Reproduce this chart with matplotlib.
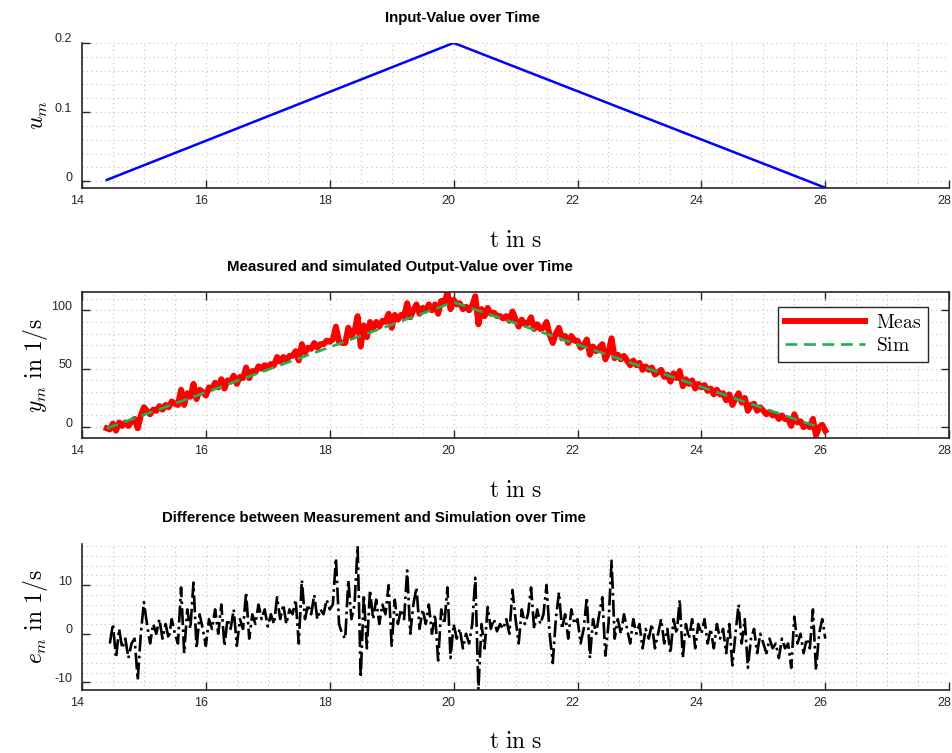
"""Input ramp, measured vs simulated output and their difference (three stacked panels)."""

import numpy as np
import matplotlib
matplotlib.use('Agg')
import matplotlib.pyplot as plt
from matplotlib.ticker import MultipleLocator, FormatStrFormatter
from matplotlib.transforms import ScaledTranslation

plt.rcParams['mathtext.fontset'] = 'cm'
plt.rcParams['font.family'] = ['Liberation Sans', 'DejaVu Sans']
plt.rcParams['axes.unicode_minus'] = False

INK = '#262626'
GRID = '#c2c2c2'

# input value: ramp up then ramp down
T_IN = [14.4, 20.0, 26.02]
U_IN = [0.002, 0.2, -0.01]

# simulated output (corner points of the ramp)
T_SIM = [14.4, 20.0, 25.95]
Y_SIM = [-1.0, 107.0, -1.0]

# measured output, one sample every 0.05 s starting at 14.40 s
T0_MEAS = 14.40
DT_MEAS = 0.05
Y_MEAS = [
    -1,
    -2, 3, -3, 4, 1, 4, 1, 5, 7, -1, 10, 17, 14, 11, 15, 14, 18, 15, 19, 17,
    22, 20, 19, 32, 19, 29, 26, 37, 24, 32, 30, 27, 34, 33, 38, 34, 41, 33, 40, 39,
    44, 37, 43, 42, 51, 42, 48, 47, 52, 50, 53, 51, 54, 53, 60, 56, 60, 57, 61, 61,
    65, 57, 71, 64, 68, 67, 72, 68, 71, 71, 74, 73, 75, 86, 73, 72, 72, 85, 78, 82,
    95, 69, 87, 77, 90, 85, 90, 86, 91, 90, 97, 85, 96, 92, 96, 95, 106, 94, 100, 105,
    97, 102, 100, 105, 100, 105, 97, 108, 106, 115, 101, 109, 105, 106, 101, 103, 100, 104, 112, 88,
    101, 95, 102, 97, 98, 95, 95, 93, 95, 91, 99, 92, 86, 92, 88, 89, 94, 84, 88, 84,
    85, 90, 79, 72, 80, 85, 76, 78, 72, 78, 74, 74, 68, 70, 75, 62, 69, 65, 68, 71,
    58, 64, 76, 59, 62, 58, 61, 57, 53, 57, 53, 55, 49, 52, 49, 51, 45, 47, 49, 43,
    45, 39, 46, 42, 48, 35, 41, 37, 40, 33, 37, 34, 36, 31, 33, 28, 32, 28, 29, 23,
    28, 19, 24, 29, 21, 25, 14, 19, 20, 14, 17, 14, 11, 13, 10, 11, 7, 10, 7, 7,
    1, 11, 4, 5, 0, 2, 0, 7, -7, 0, 2, -3,
]

# difference measurement - simulation, one sample every 0.05 s from 14.45 s
T0_ERR = 14.45
DT_ERR = 0.05
E_DIFF = [
    -2, 2, -5, 1, -3, -1, -5, -2, -1, -9.5, 0, 6.5, 2, -2, 2, 0, 3, -1, 2, -1,
    3, 0, -2, 9.5, -4, 5, 1, 10.5, -3, 4, 1, -2.5, 3, 1, 5, 0, 6, -2.5, 3, 1,
    5, -2.5, 3, 1, 8.5, -1, 4, 2, 6, 3, 5, 1.5, 4, 2, 7.5, 3, 6, 2, 5, 4,
    7, -2, 11, 3, 6, 4, 8, 3, 5, 4, 7, 5, 6, 15.5, 2, 0, -1, 11, 3, 6,
    18, -9, 8, -3, 9, 3, 7, 2, 6, 4, 10, -2.5, 7, 2, 5, 3, 13, 0, 6, 9.5,
    1, 5, 2, 6, 0, 4, -5.5, 5, 2, 9.5, -5, 2, -1, 1, -3, 0, -2, 2, 11.5, -11.5,
    2, -3, 5.5, 1, 3, 0.5, 2, 1, 3, 0, 9, 3, -2, 5, 2, 4, 9.5, 1, 5, 2,
    4, 10, 0, -6, 3, 8.5, 1, 4, -1, 5, 2, 3, -2, 1, 7.5, -5, 3, 0, 4, 7.5,
    -4.5, 2, 15, -1, 3, 0, 4, 1, -2, 3, 0, 2, -3, 1, -1, 2, -3, 0, 3, -2,
    1, -4, 3, 0, 7, -5, 2, -1, 3, -3, 2, 0, 3, -2, 1, -3, 2, -1, 1, -4,
    2, -6.5, 0, 6, -2, 3, -7, -1, 1, -4, 0, -2, -4, -1, -3, -2, -5, -1, -3, -2,
    -7, 3.5, -2, 0, -4, -1, -3, 5, -7.5, 0, 3, -1,
]

XLABEL = r'$\mathrm{t\ in\ s}$'
LABEL_FS = 17


def style_axes(fig, ax, box, ymajor, yminor, yfmt):
    ax.set_xlim(14, 28)
    ax.xaxis.set_major_locator(MultipleLocator(2))
    ax.xaxis.set_minor_locator(MultipleLocator(0.5))
    ax.yaxis.set_major_locator(MultipleLocator(ymajor))
    ax.yaxis.set_minor_locator(MultipleLocator(yminor))
    ax.yaxis.set_major_formatter(FormatStrFormatter(yfmt))
    ax.grid(which='both', color=GRID, linestyle=(0, (1, 3)), linewidth=0.8)
    ax.set_axisbelow(True)
    ax.tick_params(which='major', direction='in', length=6, width=1,
                   colors=INK, labelsize=9, top=box, right=box)
    ax.tick_params(axis='x', pad=5)
    ax.tick_params(axis='y', pad=7)
    ax.tick_params(which='minor', length=0)
    ax.spines['top'].set_visible(box)
    ax.spines['right'].set_visible(box)
    for sp in ax.spines.values():
        sp.set_color(INK)
        sp.set_linewidth(1.2)
    ax.set_xlabel(XLABEL, fontsize=LABEL_FS)
    ax.xaxis.set_label_coords(0.5, -0.285)
    ax.yaxis.set_label_coords(-0.037, 0.5)

    # tick labels sit a little left / a little high, like the original
    xshift = ScaledTranslation(-0.05, 0, fig.dpi_scale_trans)
    yshift = ScaledTranslation(0, 0.05, fig.dpi_scale_trans)
    for lbl in ax.get_xticklabels():
        lbl.set_transform(lbl.get_transform() + xshift)
    for lbl in ax.get_yticklabels():
        lbl.set_transform(lbl.get_transform() + yshift)


def main():
    fig = plt.figure(figsize=(9.53, 7.53), dpi=100, facecolor='white')

    ax1 = fig.add_axes([0.086, 0.750, 0.910, 0.193])
    ax2 = fig.add_axes([0.086, 0.418, 0.910, 0.194])
    ax3 = fig.add_axes([0.086, 0.084, 0.910, 0.194])

    # panel 1: input value
    ax1.plot(T_IN, U_IN, color='#0000ff', lw=1.8)
    ax1.set_ylim(-0.01, 0.2)
    style_axes(fig, ax1, False, 0.1, 0.02, '%g')
    ax1.set_ylabel(r'$u_m$', fontsize=LABEL_FS)

    # panel 2: measured and simulated output
    t_meas = T0_MEAS + DT_MEAS * np.arange(len(Y_MEAS))
    ax2.plot(t_meas, Y_MEAS, color='#ff0000', lw=4.3, label=r'$\mathrm{Meas}$',
             solid_joinstyle='round')
    ax2.plot(T_SIM, Y_SIM, color='#1db154', lw=1.9, dashes=(4.5, 2.5),
             label=r'$\mathrm{Sim}$')
    ax2.set_ylim(-9.5, 115.5)
    style_axes(fig, ax2, True, 50, 10, '%g')
    ax2.set_ylabel(r'$y_m\ \mathrm{in}\ 1/\mathrm{s}$', fontsize=LABEL_FS)
    leg = ax2.legend(loc='upper right', bbox_to_anchor=(0.976, 0.897),
                     fontsize=14, handlelength=4.1, frameon=True,
                     fancybox=False, framealpha=1, edgecolor=INK,
                     borderaxespad=0, labelspacing=0.25, borderpad=0.35,
                     handletextpad=0.6)
    leg.get_frame().set_linewidth(1.0)

    # panel 3: difference
    t_err = T0_ERR + DT_ERR * np.arange(len(E_DIFF))
    ax3.plot(t_err, E_DIFF, color='black', lw=1.9, linestyle='-.')
    ax3.set_ylim(-11.5, 18.5)
    style_axes(fig, ax3, False, 10, 2, '%g')
    ax3.set_ylabel(r'$e_m\ \mathrm{in}\ 1/\mathrm{s}$', fontsize=LABEL_FS)

    # titles (placed like the original, not centred on the axes)
    fig.text(463 / 953, 1 - 18 / 753, 'Input-Value over Time',
             fontsize=10.8, weight='bold', ha='center', va='center')
    fig.text(400 / 953, 1 - 267 / 753,
             'Measured and simulated Output-Value over Time',
             fontsize=10.8, weight='bold', ha='center', va='center')
    fig.text(374 / 953, 1 - 518 / 753,
             'Difference between Measurement and Simulation over Time',
             fontsize=10.8, weight='bold', ha='center', va='center')

    fig.savefig('out.png', dpi=100, facecolor='white')
    plt.close(fig)


if __name__ == '__main__':
    main()
